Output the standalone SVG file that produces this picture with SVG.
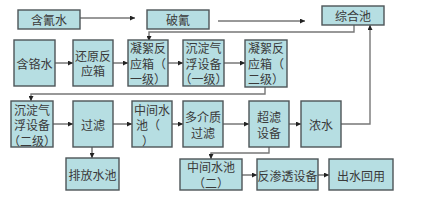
<svg xmlns="http://www.w3.org/2000/svg" width="427" height="203" viewBox="0 0 427 203">
<style>
.b{fill:#b6dee2;stroke:#4d5558;stroke-width:1.4}
.t{font-family:"Noto Sans CJK SC",sans-serif;font-size:12px;fill:#3a3a3a;text-anchor:middle;dominant-baseline:central}
.c{fill:none;stroke:#333;stroke-width:1}
.g{fill:none;stroke:#777;stroke-width:1.4}
</style>
<defs>
<marker id="a" viewBox="0 0 6 6" refX="6" refY="3" markerWidth="5" markerHeight="5" orient="auto" markerUnits="userSpaceOnUse">
<path d="M0,0L6,3L0,6z" fill="#222"/>
</marker>
</defs>
<rect width="427" height="203" fill="#fff"/>
<g id="connectors">
<path class="c" d="M80,18H135" marker-end="url(#a)"/>
<path class="c" d="M218,21H305" marker-end="url(#a)"/>
<path class="g" d="M354,25V32H149V41" marker-end="url(#a)"/>
<path class="c" d="M55,63H73" marker-end="url(#a)"/>
<path class="c" d="M113,63H128" marker-end="url(#a)"/>
<path class="c" d="M168,63H183" marker-end="url(#a)"/>
<path class="c" d="M224,63H245" marker-end="url(#a)"/>
<path class="g" d="M265,87V94H31V101" marker-end="url(#a)"/>
<path class="c" d="M53,124H73" marker-end="url(#a)"/>
<path class="c" d="M113,124H132" marker-end="url(#a)"/>
<path class="c" d="M157,124H183" marker-end="url(#a)"/>
<path class="c" d="M223,124H249" marker-end="url(#a)"/>
<path class="c" d="M289,124H301" marker-end="url(#a)"/>
<path class="g" d="M341,124H370V25" marker-end="url(#a)"/>
<path class="c" d="M92,147V158" marker-end="url(#a)"/>
<path class="g" d="M269,147V153H211V159" marker-end="url(#a)"/>
<path class="c" d="M242,175H257" marker-end="url(#a)"/>
<path class="c" d="M318,175H329" marker-end="url(#a)"/>
</g>
<g id="n1"><rect class="b" x="18" y="10" width="62" height="19"/><text class="t" x="49" y="19.5">含氰水</text></g>
<g id="n2"><rect class="b" x="147" y="10" width="62" height="19"/><text class="t" x="178" y="19.5">破氰</text></g>
<g id="n3"><rect class="b" x="322" y="6" width="62" height="19"/><text class="t" x="353" y="15.5">综合池</text></g>
<g id="n4"><rect class="b" x="14" y="40" width="41" height="46"/><text class="t" x="34.5" y="63">含铬水</text></g>
<g id="n5"><rect class="b" x="73" y="40" width="40" height="46"/><text class="t" x="93" y="55">还原反</text><text class="t" x="93" y="70.5">应箱</text></g>
<g id="n6"><rect class="b" x="128" y="40" width="40" height="46"/><text class="t" x="148" y="47.5">凝絮反</text><text class="t" x="148" y="63">应箱（</text><text class="t" x="148" y="78.5">一级）</text></g>
<g id="n7"><rect class="b" x="183" y="40" width="41" height="46"/><text class="t" x="203.5" y="47.5">沉淀气</text><text class="t" x="203.5" y="63">浮设备</text><text class="t" x="203.5" y="78.5">（一级）</text></g>
<g id="n8"><rect class="b" x="245" y="40" width="42" height="47"/><text class="t" x="266" y="47.5">凝絮反</text><text class="t" x="266" y="63">应箱（</text><text class="t" x="266" y="78.5">二级）</text></g>
<g id="n9"><rect class="b" x="11" y="101" width="42" height="46"/><text class="t" x="32" y="109">沉淀气</text><text class="t" x="32" y="124.5">浮设备</text><text class="t" x="32" y="140">（二级）</text></g>
<g id="n10"><rect class="b" x="73" y="101" width="40" height="46"/><text class="t" x="93" y="124.5">过滤</text></g>
<g id="n11"><rect class="b" x="132" y="101" width="40" height="46"/><text class="t" x="152" y="109">中间水</text><text class="t" x="148" y="124.5">池（</text><text class="t" x="148" y="140">）</text></g>
<g id="n12"><rect class="b" x="183" y="101" width="40" height="46"/><text class="t" x="203" y="116.5">多介质</text><text class="t" x="203" y="132">过滤</text></g>
<g id="n13"><rect class="b" x="249" y="101" width="40" height="46"/><text class="t" x="269" y="116.5">超滤</text><text class="t" x="269" y="132">设备</text></g>
<g id="n14"><rect class="b" x="301" y="101" width="40" height="46"/><text class="t" x="321" y="124.5">浓水</text></g>
<g id="n15"><rect class="b" x="66" y="158" width="53" height="32"/><text class="t" x="92.5" y="174.5">排放水池</text></g>
<g id="n16"><rect class="b" x="180" y="159" width="62" height="31"/><text class="t" x="211" y="166.5">中间水池</text><text class="t" x="211" y="182">（二）</text></g>
<g id="n17"><rect class="b" x="257" y="159" width="61" height="31"/><text class="t" x="287.5" y="175">反渗透设备</text></g>
<g id="n18"><rect class="b" x="329" y="159" width="64" height="31"/><text class="t" x="361" y="175">出水回用</text></g>
</svg>
